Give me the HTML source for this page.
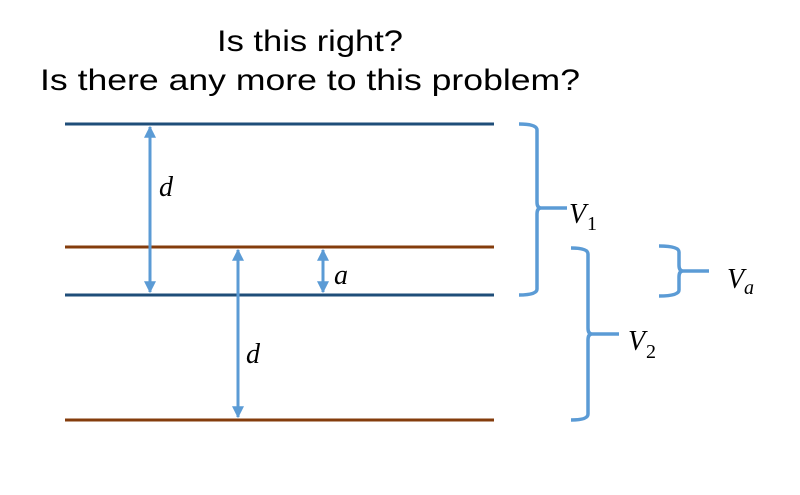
<!DOCTYPE html>
<html><head><style>html,body{margin:0;padding:0;background:#fff}svg{display:block}</style></head>
<body>
<svg width="800" height="495" viewBox="0 0 800 495" xmlns="http://www.w3.org/2000/svg">
<defs>
<marker id="ah" viewBox="0 0 10 10" refX="9" refY="5" markerWidth="4" markerHeight="4" orient="auto-start-reverse" markerUnits="strokeWidth">
<path d="M0,0 L10,5 L0,10 z" fill="#5b9bd5"/></marker>
</defs>
<g font-family="Liberation Sans, sans-serif" font-size="30" fill="#000" text-anchor="middle">
<text x="310" y="51" textLength="186" lengthAdjust="spacingAndGlyphs">Is this right?</text>
<text x="310" y="90" textLength="540" lengthAdjust="spacingAndGlyphs">Is there any more to this problem?</text>
</g>
<g stroke-width="3">
<line x1="65" y1="124" x2="494" y2="124" stroke="#1f4e79"/>
<line x1="65" y1="247" x2="494" y2="247" stroke="#843c0c"/>
<line x1="65" y1="295" x2="494" y2="295" stroke="#1f4e79"/>
<line x1="65" y1="420" x2="494" y2="420" stroke="#843c0c"/>
</g>
<g stroke="#5b9bd5" stroke-width="3" fill="none">
<line x1="150" y1="127" x2="150" y2="292" marker-start="url(#ah)" marker-end="url(#ah)"/>
<line x1="238" y1="250" x2="238" y2="417" marker-start="url(#ah)" marker-end="url(#ah)"/>
<line x1="323" y1="250" x2="323" y2="292" marker-start="url(#ah)" marker-end="url(#ah)"/>
</g>
<g stroke="#5b9bd5" stroke-width="3.5" fill="none">
<path d="M519,124 Q537,124 537,130 L537,202 Q537,208 541,208 L567,208 M541,208 Q537,208 537,214 L537,289 Q537,295 519,295"/>
<path d="M571,248 Q588,248 588,254 L588,328 Q588,334 592,334 L619,334 M592,334 Q588,334 588,340 L588,414 Q588,420 571,420"/>
<path d="M659,246 Q679,246 679,252 L679,265 Q679,271 683,271 L709,271 M683,271 Q679,271 679,277 L679,290 Q679,296 659,296"/>
</g>
<g font-family="Liberation Serif, serif" font-style="italic" font-size="28" fill="#000">
<text x="159" y="196">d</text>
<text x="246" y="363">d</text>
<text x="334" y="284">a</text>
<text x="569" y="223">V</text>
<text x="628" y="350">V</text>
<text x="727" y="288">V</text>
</g>
<g font-family="Liberation Serif, serif" font-size="20" fill="#000">
<text x="587" y="230">1</text>
<text x="646" y="358">2</text>
<text x="744" y="294" font-style="italic">a</text>
</g>
</svg>
</body></html>
